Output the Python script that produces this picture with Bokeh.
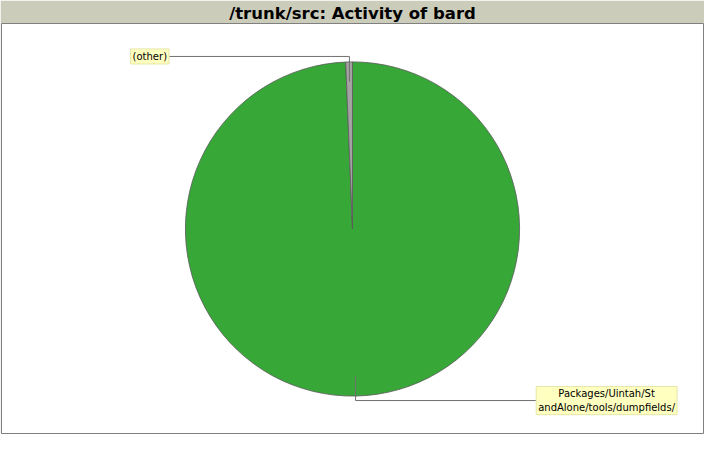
import math
from bokeh.plotting import figure
from bokeh.models import Range1d, Label, ColumnDataSource
from bokeh.embed import file_html
from bokeh.resources import INLINE

# ---- data ----
categories = ["Packages/Uintah/StandAlone/tools/dumpfields/", "(other)"]
label_texts = ["Packages/Uintah/St\nandAlone/tools/dumpfields/", "(other)"]
values = [99.35, 0.65]
colors = ["#37a737", "#a3a3a3"]

# ---- layout (reference pixel coordinates, y measured upward from page bottom) ----
CX, CY, R = 360, 216, 169
label_pos = [(617, 39), (155, 394)]       # label centres
label_edge_x = [546, 173]                 # where leader meets label box

p = figure(width=704, height=434, output_backend="svg", toolbar_location=None,
           x_range=Range1d(5, 715), y_range=Range1d(5, 428),
           title="/trunk/src: Activity of bard",
           min_border_left=1, min_border_right=1, min_border_bottom=1, min_border_top=0)
p.title.align = "center"
p.title.text_font = "DejaVu Sans"
p.title.text_font_size = "16.5px"
p.title.text_font_style = "bold"
p.title.text_color = "#000000"
p.title.offset = 0
p.title.standoff = 2
p.border_fill_color = "#ccccbb"
p.background_fill_color = "#ffffff"
p.outline_line_color = "#808080"
p.outline_line_width = 1
p.xaxis.visible = False
p.yaxis.visible = False
p.xgrid.visible = False
p.ygrid.visible = False

total = sum(values)
starts, ends, mids = [], [], []
cum = 0.0
for v in values:
    a0 = 90.0 - cum / total * 360.0
    cum += v
    a1 = 90.0 - cum / total * 360.0
    # clockwise slice from a0 to a1 -> anticlockwise wedge from a1 to a0
    starts.append(math.radians(a1))
    ends.append(math.radians(a0))
    mids.append(math.radians((a0 + a1) / 2.0))

src = ColumnDataSource(dict(start=starts, end=ends, color=colors))
p.wedge(x=CX, y=CY, radius=R, start_angle="start", end_angle="end",
        fill_color="color", line_color="#5a5a5a", line_width=0.8, source=src)

for i, m in enumerate(mids):
    ax = CX + 0.9 * R * math.cos(m)
    ay = CY + 0.9 * R * math.sin(m)
    lx, ly = label_pos[i]
    p.line([ax, ax, label_edge_x[i]], [ay, ly, ly], line_color="#707070", line_width=1)
    lab = Label(x=lx, y=ly, text=label_texts[i], text_align="center", text_baseline="middle",
                text_font="DejaVu Sans", text_font_size="10px", text_color="#000000",
                background_fill_color="#ffffc0", border_line_color="#e6e6a8",
                padding=2)
    p.add_layout(lab)

open("out.html", "w").write(file_html(p, INLINE))
